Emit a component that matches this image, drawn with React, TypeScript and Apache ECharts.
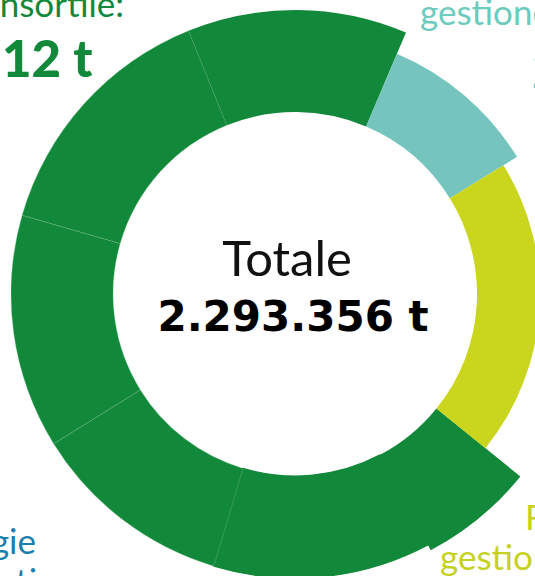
import React, { useEffect, useRef } from "react";
import * as echarts from "echarts";

const segmentNames = ["S1", "S2", "S3", "S4", "S5", "S6", "S7", "S8"];
const segmentValues = [224876, 450390, 147157, 283484, 265010, 305144, 330625, 286669];
const segmentColors = ["#75c4be", "#cad51e", "#12893a", "#12893a", "#12893a", "#12893a", "#12893a", "#12893a"];
// which ring (outer radius group) each segment belongs to
const segmentRing = [2, 3, 1, 0, 0, 0, 0, 0];
const seamColor = "rgba(120,190,140,0.55)";
const segmentBorderColors = ["", "", "", "#12893a", seamColor, seamColor, seamColor, ""];
const segmentBorderWidths = [0, 0, 0, 1.2, 0.6, 0.6, 0.6, 0];
const ringOuter = [284, 290, 261, 245];

const totalLabel = "Totale";
const totalValue = "2.293.356 t";

export default function App() {
  const ref = useRef<HTMLDivElement>(null);
  useEffect(() => {
    if (!ref.current) return;
    const chart = echarts.init(ref.current, undefined, { renderer: "svg" });
    const series = ringOuter.map((outer, ri) => ({
      type: "pie",
      center: [295, 294],
      radius: [182, outer],
      startAngle: 67,
      clockwise: true,
      silent: true,
      avoidLabelOverlap: false,
      label: { show: false },
      labelLine: { show: false },
      emphasis: { disabled: true },
      z: 2 + ri,
      data: segmentValues.map((v, i) => ({
        name: segmentNames[i],
        value: v,
        itemStyle:
          segmentRing[i] === ri
            ? {
                color: segmentColors[i],
                borderColor: segmentBorderColors[i] || segmentColors[i],
                borderWidth: segmentBorderWidths[i],
              }
            : { color: "rgba(0,0,0,0)", borderWidth: 0 },
      })),
    }));
    const t = (text: string, x: number, y: number, font: string, fill: string, align: string) => ({
      type: "text",
      silent: true,
      z: 10,
      style: { text, x, y, font, fill, textAlign: align, textVerticalAlign: "middle" },
    });
    chart.setOption({
      animation: false,
      series,
      graphic: {
        elements: [
          t("consortile:", 124, 2.5, "400 35px Lato", "#12893a", "right"),
          t("12 t", 2, 57, "900 51px Lato", "#12893a", "left"),
          t(totalLabel, 287, 257, "400 49px Lato", "#111111", "center"),
          t(totalValue, 293, 316, "bold 42px 'DejaVu Sans'", "#000000", "center"),
          t("gestione", 420, 11, "400 35px Lato", "#6ccbbd", "left"),
          t("2", 532, 67, "900 54px Lato", "#6ccbbd", "left"),
          t("gie", 36, 540, "400 35px Lato", "#1a7fab", "right"),
          t("ti", 37, 580, "400 35px Lato", "#1a7fab", "right"),
          t("R", 525, 516, "400 35px Lato", "#c6d21f", "left"),
          t("gestione", 440, 556, "400 35px Lato", "#c6d21f", "left"),
        ],
      },
    });
    return () => chart.dispose();
  }, []);
  return (
    <div
      ref={ref}
      style={{ position: "fixed", left: 0, top: 0, width: 535, height: 576, background: "#ffffff" }}
    />
  );
}
